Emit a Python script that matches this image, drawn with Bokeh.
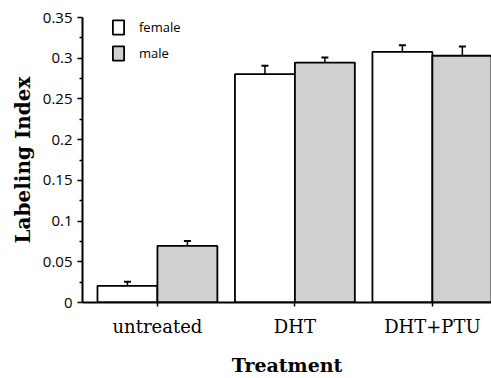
from bokeh.plotting import figure
from bokeh.models import ColumnDataSource, FixedTicker, Legend, LegendItem
from bokeh.embed import file_html
from bokeh.resources import INLINE

treatments = ["untreated", "DHT", "DHT+PTU"]
female = [0.0205, 0.2805, 0.3077]
female_err = [0.005, 0.0101, 0.0082]
male = [0.0695, 0.2947, 0.3030]
male_err = [0.0061, 0.0061, 0.0113]
y_ticks = [0, 0.05, 0.1, 0.15, 0.2, 0.25, 0.3, 0.35]
y_tick_labels = ["0", "0.05", "0.1", "0.15", "0.2", "0.25", "0.3", "0.35"]
y_minor = [0.025, 0.075, 0.125, 0.175, 0.225, 0.275, 0.325]

bw = 0.436
xs = list(range(len(treatments)))
xf = [x - bw / 2 for x in xs]
xm = [x + bw / 2 for x in xs]

src_f = ColumnDataSource(dict(x=xf, top=female, etop=[v + e for v, e in zip(female, female_err)]))
src_m = ColumnDataSource(dict(x=xm, top=male, etop=[v + e for v, e in zip(male, male_err)]))

p = figure(width=491, height=378, output_backend="svg", toolbar_location=None,
           x_range=(-0.545, 2.43), y_range=(0, 0.35),
           min_border_left=82, min_border_right=0, min_border_top=17, min_border_bottom=73)
p.outline_line_color = None
p.grid.grid_line_color = None
p.background_fill_color = "white"

rf = p.vbar(x="x", top="top", width=bw, source=src_f, fill_color="white",
            line_color="black", line_width=1.8)
rm = p.vbar(x="x", top="top", width=bw, source=src_m, fill_color="#d0d0d0",
            line_color="black", line_width=1.8)

for s in (src_f, src_m):
    p.segment(x0="x", y0="top", x1="x", y1="etop", source=s, line_color="black", line_width=1.5)
    p.scatter(x="x", y="etop", source=s, marker="dash", size=7, line_color="black", line_width=2)

# axes
xa = p.xaxis[0]
xa.ticker = FixedTicker(ticks=xs)
xa.major_label_overrides = {i: t for i, t in enumerate(treatments)}
xa.axis_label = "Treatment"
xa.axis_label_text_font = "DejaVu Serif"
xa.axis_label_text_font_style = "bold"
xa.axis_label_text_font_size = "19px"
xa.axis_label_text_color = "black"
xa.axis_label_standoff = 14
xa.major_label_text_font = "DejaVu Serif"
xa.major_label_text_font_size = "18px"
xa.major_label_text_color = "black"
xa.major_label_standoff = 9
xa.major_tick_out = 4
xa.major_tick_in = 0
xa.minor_tick_out = 0
xa.axis_line_width = 2
xa.major_tick_line_width = 1.5

ya = p.yaxis[0]
ya.ticker = FixedTicker(ticks=y_ticks, minor_ticks=y_minor)
ya.major_label_overrides = {t: l for t, l in zip(y_ticks, y_tick_labels)}
ya.axis_label = "Labeling Index"
ya.axis_label_text_font = "DejaVu Serif"
ya.axis_label_text_font_style = "bold"
ya.axis_label_text_font_size = "20px"
ya.axis_label_text_color = "black"
ya.axis_label_standoff = 5
ya.major_label_text_font = "Open Sans"
ya.major_label_text_font_size = "15px"
ya.major_label_text_color = "black"
ya.major_label_standoff = 5
ya.major_tick_out = 5
ya.major_tick_in = 0
ya.minor_tick_out = 3
ya.minor_tick_in = 0
ya.axis_line_width = 2
ya.major_tick_line_width = 1.5
ya.minor_tick_line_width = 1.5

legend = Legend(items=[LegendItem(label="female", renderers=[rf]),
                       LegendItem(label="male", renderers=[rm])],
                location=(29, 240), glyph_width=14, glyph_height=18,
                label_text_font="Open Sans", label_text_font_size="13px",
                label_text_color="black",
                label_standoff=14, spacing=8, padding=2, margin=0,
                border_line_color=None, background_fill_alpha=0)
p.add_layout(legend)

open("out.html", "w").write(file_html(p, INLINE))
